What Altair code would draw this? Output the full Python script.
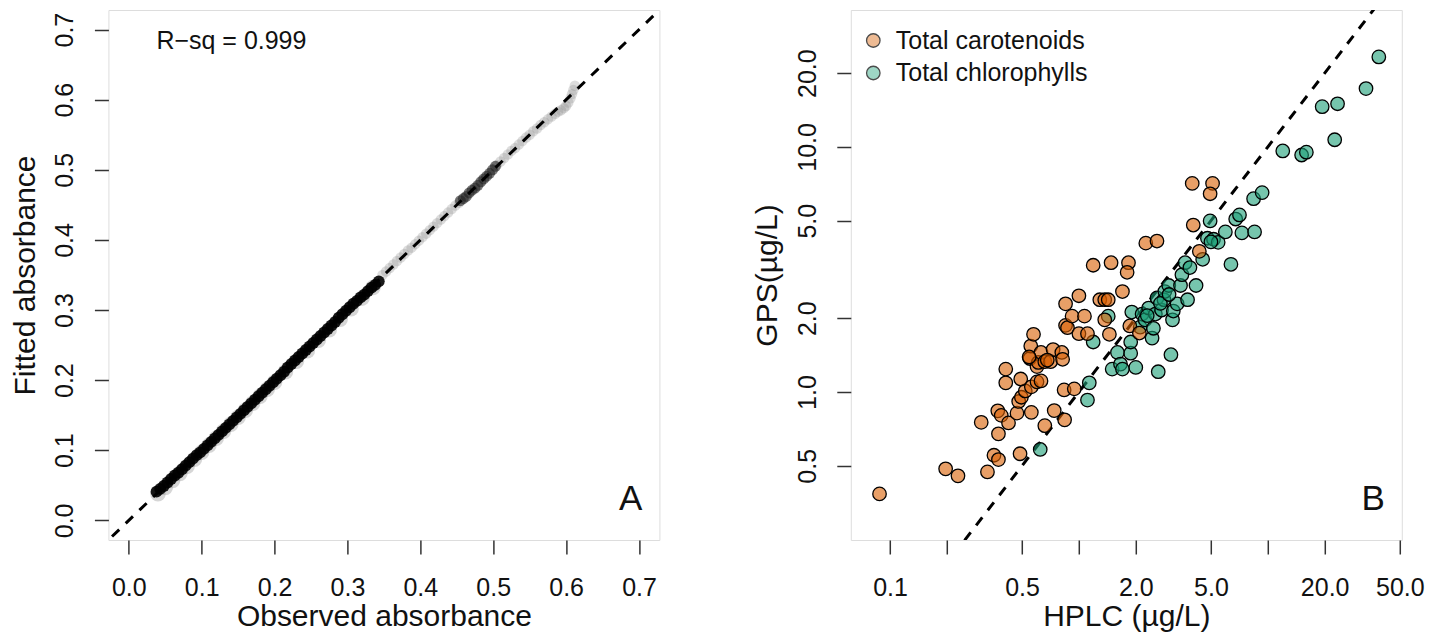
import altair as alt
import pandas as pd

FONT = "Liberation Sans"
W, H = 551, 530

# ---------------- Panel A data (observed vs fitted absorbance) ----------------
obs_dense = [0.038, 0.043, 0.048, 0.053, 0.058, 0.063, 0.068, 0.073, 0.078, 0.083,
             0.088, 0.093, 0.098, 0.103, 0.108, 0.113, 0.118, 0.123, 0.128, 0.133,
             0.138, 0.143, 0.148, 0.153, 0.158, 0.163, 0.168, 0.173, 0.178, 0.183,
             0.188, 0.193, 0.198, 0.203, 0.208, 0.213, 0.218, 0.223, 0.228, 0.233,
             0.238, 0.243, 0.248, 0.253, 0.258, 0.263, 0.268, 0.273, 0.278, 0.283,
             0.288, 0.293, 0.298, 0.303, 0.308, 0.313, 0.318, 0.323, 0.328, 0.333,
             0.338, 0.343]
fit_dense = [0.041, 0.045, 0.049, 0.054, 0.059, 0.064, 0.068, 0.073, 0.078, 0.083,
             0.088, 0.093, 0.097, 0.102, 0.107, 0.112, 0.117, 0.122, 0.127, 0.132,
             0.137, 0.142, 0.147, 0.152, 0.157, 0.162, 0.167, 0.172, 0.177, 0.182,
             0.187, 0.192, 0.197, 0.202, 0.207, 0.212, 0.218, 0.223, 0.228, 0.233,
             0.238, 0.243, 0.248, 0.253, 0.258, 0.263, 0.268, 0.273, 0.278, 0.283,
             0.289, 0.294, 0.299, 0.304, 0.309, 0.313, 0.318, 0.322, 0.327, 0.332,
             0.336, 0.341]

obs_fringe = [0.040, 0.050, 0.060, 0.070, 0.080, 0.090, 0.100, 0.110, 0.120, 0.130,
              0.140, 0.150, 0.160, 0.170, 0.180, 0.190, 0.200, 0.215, 0.230, 0.245,
              0.260, 0.275, 0.290, 0.305, 0.320, 0.335]
fit_fringe = [0.038, 0.047, 0.057, 0.067, 0.077, 0.087, 0.097, 0.107, 0.117, 0.127,
              0.137, 0.147, 0.157, 0.167, 0.177, 0.187, 0.197, 0.212, 0.227, 0.242,
              0.257, 0.272, 0.287, 0.302, 0.317, 0.332]

obs_mid = [0.455, 0.459, 0.463, 0.467, 0.471, 0.475, 0.479, 0.483, 0.487, 0.491,
           0.495, 0.499, 0.503]
fit_mid = [0.456, 0.459, 0.462, 0.467, 0.471, 0.474, 0.478, 0.483, 0.487, 0.491,
           0.495, 0.500, 0.505]

obs_light = [0.348, 0.353, 0.358, 0.363, 0.368, 0.373, 0.378, 0.383, 0.388, 0.393,
             0.398, 0.403, 0.408, 0.413, 0.418, 0.423, 0.428, 0.433, 0.438, 0.443,
             0.448, 0.453, 0.505, 0.510, 0.515, 0.520, 0.525, 0.530, 0.535, 0.540,
             0.545, 0.550, 0.555, 0.560, 0.565, 0.570, 0.575, 0.580, 0.585, 0.589,
             0.593, 0.597, 0.600, 0.603, 0.606, 0.608, 0.610, 0.612]
fit_light = [0.350, 0.355, 0.360, 0.365, 0.370, 0.375, 0.380, 0.385, 0.389, 0.394,
             0.399, 0.404, 0.409, 0.414, 0.419, 0.424, 0.429, 0.434, 0.439, 0.444,
             0.449, 0.453, 0.507, 0.512, 0.517, 0.522, 0.527, 0.531, 0.536, 0.541,
             0.546, 0.550, 0.555, 0.559, 0.564, 0.568, 0.572, 0.576, 0.580, 0.583,
             0.585, 0.588, 0.591, 0.596, 0.602, 0.608, 0.614, 0.620]

ticks_a = [0.0, 0.1, 0.2, 0.3, 0.4, 0.5, 0.6, 0.7]
domain_a = [-0.028, 0.728]
ref_a = [-1.0, 1.0]

# ---------------- Panel B data (HPLC vs GPS, ug/L) ----------------
car_hplc = [0.088, 0.197, 0.229, 0.328, 0.355, 0.375, 0.488, 0.304, 0.375, 0.372,
            0.388, 0.424, 0.470, 0.560, 0.480, 0.496, 0.520, 0.560, 0.410, 0.410,
            0.492, 0.550, 0.556, 0.575, 0.600, 0.600, 0.630, 0.610, 0.630, 0.660,
            0.708, 0.730, 0.812, 0.820, 0.835, 0.945, 0.740, 0.840, 0.660, 0.545,
            0.680, 0.850, 0.870, 0.850, 1.00, 0.920, 1.07, 1.00, 1.11, 1.29,
            1.37, 1.43, 1.45, 1.37, 1.19, 1.48, 1.83, 1.80, 1.70, 1.86,
            2.09, 2.26, 2.59, 3.98, 5.10, 4.95, 4.03, 4.34]
car_gps = [0.384, 0.486, 0.455, 0.472, 0.552, 0.530, 0.560, 0.752, 0.675, 0.838,
           0.803, 0.748, 0.820, 0.826, 0.915, 0.952, 1.01, 1.05, 1.09, 1.24,
           1.13, 1.37, 1.54, 1.72, 1.27, 1.10, 1.11, 1.32, 1.45, 1.33,
           1.33, 1.49, 1.45, 1.36, 1.02, 1.03, 0.840, 0.770, 0.729, 1.39,
           1.35, 1.87, 1.83, 2.29, 2.47, 2.04, 2.04, 1.73, 1.73, 2.38,
           2.38, 2.38, 1.72, 1.97, 3.29, 3.37, 3.37, 3.08, 2.57, 1.86,
           1.74, 4.05, 4.13, 7.10, 7.10, 6.44, 4.80, 3.75]

chl_hplc = [0.624, 1.11, 1.135, 1.19, 1.43, 1.50, 1.60, 1.66, 1.70, 1.88,
            1.88, 1.905, 2.00, 2.11, 2.16, 2.24, 2.34, 2.44, 2.48, 2.54,
            2.59, 2.63, 2.74, 2.82, 2.85, 2.99, 3.13, 3.16, 3.07, 3.31,
            3.45, 3.51, 3.65, 3.76, 3.87, 4.17, 4.52, 4.79, 4.95, 5.16,
            5.46, 5.96, 6.38, 7.29, 6.76, 7.08, 8.51, 8.41, 9.33, 12.0,
            15.1, 16.0, 19.4, 23.4, 22.6, 33.1, 38.7, 2.30, 2.70, 3.00, 5.00]
chl_gps = [0.583, 0.927, 1.09, 1.60, 2.04, 1.24, 1.45, 1.30, 1.24, 1.44,
           1.60, 2.12, 1.26, 1.84, 2.08, 1.97, 2.20, 1.66, 1.82, 2.08,
           2.42, 1.21, 2.16, 2.38, 2.57, 2.72, 1.97, 2.14, 1.42, 2.29,
           2.72, 3.01, 3.37, 2.38, 3.22, 2.72, 3.48, 4.24, 4.99, 4.20,
           4.08, 4.50, 3.32, 4.46, 5.08, 5.28, 4.50, 6.15, 6.51, 9.63,
           9.27, 9.52, 14.6, 15.0, 10.7, 17.3, 23.3, 2.05, 2.30, 2.50, 4.10]

groups = ["Total carotenoids", "Total chlorophylls"]
pure_colors = ["#D95F02", "#1B9E77"]
legend_colors = ["#E89F67", "#76C5AD"]

ticks_bx = [0.1, 0.2, 0.5, 1, 2, 5, 10, 20, 50]
ticks_by = [0.5, 1, 2, 5, 10, 20]
domain_bx = [0.062, 51.2]
domain_by = [0.249, 36.2]
ref_b = [0.001, 1000.0]


def x_axis(values, title, label_expr=None):
    kw = dict(values=values, format=".1f", title=title, tickSize=14, tickWidth=1.5,
              tickColor="#333", domain=False, grid=False, labelFont=FONT,
              labelFontSize=25, labelColor="#111", labelBaseline="alphabetic",
              labelAlign="center", labelPadding=41.5, labelFlush=False,
              labelOverlap=False, titleFont=FONT, titleFontSize=30,
              titleFontWeight="normal", titleColor="#111", titleBaseline="alphabetic",
              titleAlign="center", titleX=W / 2, titleY=85.5)
    if label_expr:
        kw["labelExpr"] = label_expr
    return alt.Axis(**kw)


def y_axis(values, title):
    return alt.Axis(values=values, format=".1f", title=title, tickSize=14, tickWidth=1.5,
                    tickColor="#333", domain=False, grid=False, labelFont=FONT,
                    labelFontSize=25, labelColor="#111", labelAngle=270,
                    labelAlign="center", labelBaseline="alphabetic", labelPadding=21.7,
                    labelFlush=False, labelOverlap=False, titleFont=FONT,
                    titleFontSize=30, titleFontWeight="normal", titleColor="#111",
                    titleAngle=270, titleBaseline="alphabetic", titleAlign="center",
                    titleX=-74, titleY=H / 2)


# ---------------- Panel A ----------------
xa = alt.X("obs:Q", scale=alt.Scale(domain=domain_a, nice=False, zero=False),
           axis=x_axis(ticks_a, "Observed absorbance"))
ya = alt.Y("fit:Q", scale=alt.Scale(domain=domain_a, nice=False, zero=False),
           axis=y_axis(ticks_a, "Fitted absorbance"))

light_a = alt.Chart(pd.DataFrame({"obs": obs_light, "fit": fit_light})).mark_circle(
    size=110, color="#8f8f8f", opacity=0.3).encode(x=xa, y=ya)
fringe_a = alt.Chart(pd.DataFrame({"obs": obs_fringe, "fit": fit_fringe})).mark_circle(
    size=240, color="#777777", opacity=0.3).encode(x=xa, y=ya)
mid_a = alt.Chart(pd.DataFrame({"obs": obs_mid, "fit": fit_mid})).mark_circle(
    size=120, color="#222222", opacity=0.6).encode(x=xa, y=ya)
dense_a = alt.Chart(pd.DataFrame({"obs": obs_dense, "fit": fit_dense})).mark_circle(
    size=140, color="#000000", opacity=0.9).encode(x=xa, y=ya)
line_a = alt.Chart(pd.DataFrame({"obs": ref_a, "fit": ref_a})).mark_line(
    color="black", strokeWidth=3, strokeDash=[10, 9], clip=True).encode(x=xa, y=ya)
rsq = alt.Chart(pd.DataFrame({"t": ["R\u2212sq = 0.999"]})).mark_text(
    font=FONT, fontSize=25, align="left", baseline="alphabetic", color="#111").encode(
    x=alt.value(48), y=alt.value(39), text="t:N")
lab_a = alt.Chart(pd.DataFrame({"t": ["A"]})).mark_text(
    font=FONT, fontSize=35, align="right", baseline="alphabetic", color="#111").encode(
    x=alt.value(W - 17), y=alt.value(H - 30), text="t:N")

panel_a = alt.layer(light_a, fringe_a, mid_a, dense_a, line_a, rsq, lab_a).properties(
    width=W, height=H)

# ---------------- Panel B ----------------
df_b = pd.DataFrame({
    "hplc": chl_hplc + car_hplc,
    "gps": chl_gps + car_gps,
    "group": [groups[1]] * len(chl_hplc) + [groups[0]] * len(car_hplc),
})

xb = alt.X("hplc:Q", scale=alt.Scale(type="log", domain=domain_bx, nice=False),
           axis=x_axis(ticks_bx, "HPLC (\u00b5g/L)",
                       "(datum.value == 0.2 || datum.value == 1 || datum.value == 10) ? '' : format(datum.value, '.1f')"))
yb = alt.Y("gps:Q", scale=alt.Scale(type="log", domain=domain_by, nice=False),
           axis=y_axis(ticks_by, "GPS(\u00b5g/L)"))

pts_b = alt.Chart(df_b).mark_circle(size=182, fillOpacity=0.6, stroke="black",
                                    strokeWidth=1.3, opacity=1).encode(
    x=xb, y=yb,
    fill=alt.Fill("group:N", scale=alt.Scale(domain=groups, range=pure_colors), legend=None))

legend_b = alt.Chart(df_b).transform_filter("datum.hplc < 0").mark_circle(
    size=182, stroke="black", strokeWidth=1.3).encode(
    x=xb, y=yb,
    fill=alt.Fill("group:N", scale=alt.Scale(domain=groups, range=legend_colors),
                  legend=alt.Legend(orient="none", legendX=10, legendY=18, title=None,
                                    padding=0, symbolType="circle", symbolSize=182,
                                    symbolStrokeColor="black", symbolStrokeWidth=1.3,
                                    labelFont=FONT, labelFontSize=25, labelColor="#111",
                                    labelOffset=10, labelLimit=0, rowPadding=6.5)))

line_b = alt.Chart(pd.DataFrame({"hplc": ref_b, "gps": ref_b})).mark_line(
    color="black", strokeWidth=3, strokeDash=[10, 9], clip=True).encode(x=xb, y=yb)
lab_b = alt.Chart(pd.DataFrame({"t": ["B"]})).mark_text(
    font=FONT, fontSize=35, align="right", baseline="alphabetic", color="#111").encode(
    x=alt.value(W - 17), y=alt.value(H - 30), text="t:N")

panel_b = alt.layer(line_b, pts_b, legend_b, lab_b).resolve_scale(fill="independent").properties(
    width=W, height=H)

chart = alt.hconcat(panel_a, panel_b, spacing=191.4, bounds="flush").properties(
    padding={"left": 1.4, "top": 1, "right": 5, "bottom": 2}
).configure_view(stroke="#444", strokeWidth=1.8).configure(font=FONT)

chart.save("out.html", embed_options={"renderer": "svg", "actions": False})
